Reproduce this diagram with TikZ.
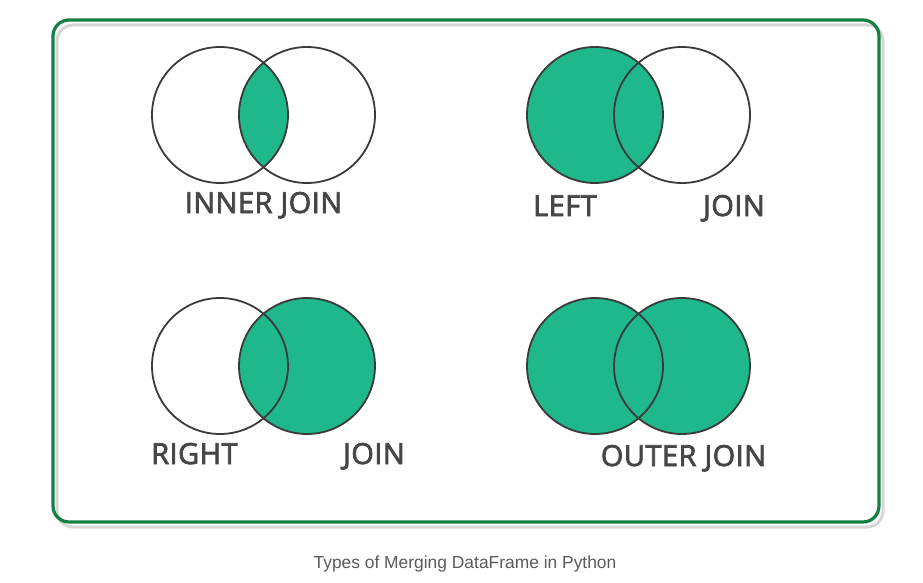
\documentclass[tikz,border=0pt]{standalone}
\usepackage{fontspec}
\setmainfont{Liberation Sans}
\newfontfamily\lblfont{Open Sans}[FakeBold=2.6, LetterSpace=1.6]
\newfontfamily\capfont{Liberation Sans}
\definecolor{framegreen}{RGB}{18,128,66}
\definecolor{shadowgrey}{RGB}{214,214,214}
\definecolor{setfill}{RGB}{30,184,138}
\definecolor{setline}{RGB}{58,58,58}
\definecolor{labelgrey}{RGB}{70,70,70}
\definecolor{captiongrey}{RGB}{90,90,90}
\tikzset{
  setoutline/.style={draw=setline, line width=1.8pt},
  setshade/.style={fill=setfill},
  joinlabel/.style={font=\lblfont\fontsize{29}{30}\selectfont, text=labelgrey, inner sep=0pt},
  caption/.style={font=\capfont\fontsize{17.4}{19}\selectfont, text=captiongrey, inner sep=0pt}
}
\begin{document}
\begin{tikzpicture}[x=1pt, y=-1pt]
  \useasboundingbox (0,0) rectangle (923,583);

  % card frame with its soft offset shadow
  \draw[shadowgrey, line width=3pt, rounded corners=16pt] (57,25) rectangle (883,527);
  \draw[framegreen, line width=3.2pt, rounded corners=16pt] (53,20) rectangle (879,522);

  % circle centres
  \coordinate (iA) at (220,115); \coordinate (iB) at (307,115);
  \coordinate (lA) at (595,115); \coordinate (lB) at (682,115);
  \coordinate (rA) at (220,366); \coordinate (rB) at (307,366);
  \coordinate (oA) at (595,366); \coordinate (oB) at (682,366);
  \def\rad{68pt}

  % inner join: only the overlap
  \begin{scope}
    \clip (iA) circle (\rad);
    \fill[setshade] (iB) circle (\rad);
  \end{scope}
  \draw[setoutline] (iA) circle (\rad);
  \draw[setoutline] (iB) circle (\rad);

  % left join: the whole left set
  \fill[setshade] (lA) circle (\rad);
  \draw[setoutline] (lA) circle (\rad);
  \draw[setoutline] (lB) circle (\rad);

  % right join: the whole right set
  \fill[setshade] (rB) circle (\rad);
  \draw[setoutline] (rA) circle (\rad);
  \draw[setoutline] (rB) circle (\rad);

  % outer join: both sets
  \fill[setshade] (oA) circle (\rad);
  \fill[setshade] (oB) circle (\rad);
  \draw[setoutline] (oA) circle (\rad);
  \draw[setoutline] (oB) circle (\rad);

  % labels
  \node[joinlabel, anchor=base] (innerlbl) at (263.5,213) {INNER JOIN};
  \node[joinlabel, anchor=base west] (leftlbl) at (533,216) {LEFT};
  \node[joinlabel, anchor=base east] (leftjoin) at (765,216) {JOIN};
  \node[joinlabel, anchor=base west] (rightlbl) at (151,464) {RIGHT};
  \node[joinlabel, anchor=base east] (rightjoin) at (405,464) {JOIN};
  \node[joinlabel, anchor=base] (outerlbl) at (683.5,466) {OUTER JOIN};

  % caption under the card
  \node[caption, anchor=base] (cap) at (465,568) {Types of Merging DataFrame in Python};
\end{tikzpicture}
\end{document}
